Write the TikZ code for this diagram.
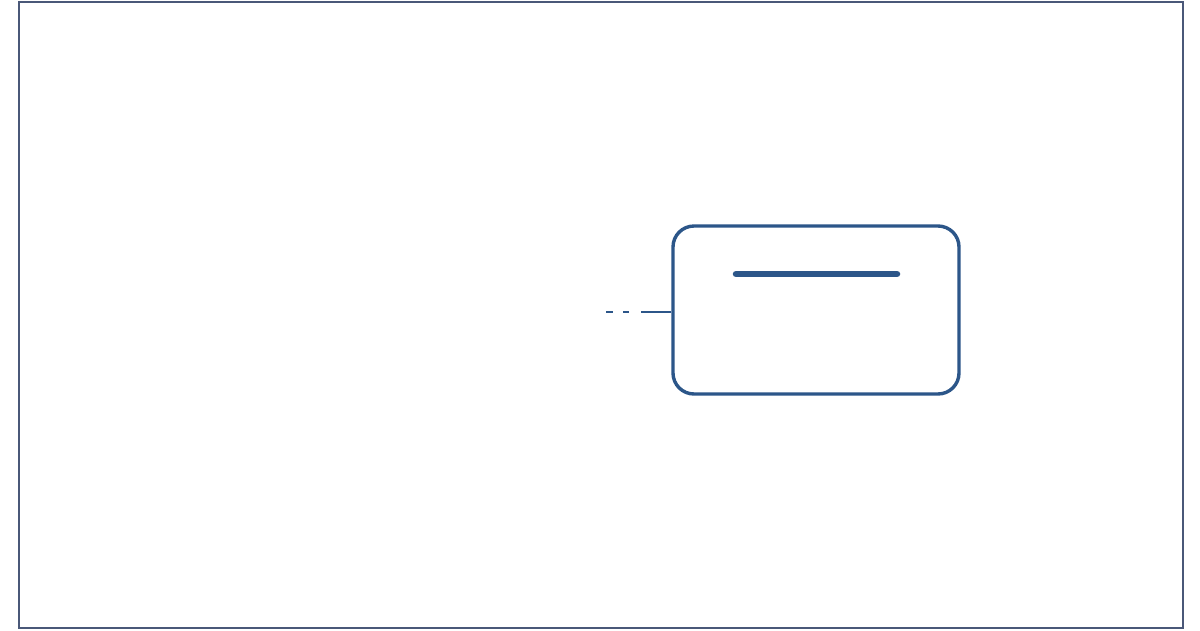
\documentclass[tikz,border=0pt]{standalone}
\definecolor{frame}{HTML}{4A5878}
\definecolor{nodeblue}{HTML}{2C5689}
\tikzset{
  framebox/.style={draw=frame, line width=2pt},
  roundbox/.style={draw=nodeblue, line width=3.4pt, rounded corners=21pt, fill=white},
  titlebar/.style={draw=nodeblue, line width=6.5pt, line cap=round},
  conn/.style={draw=nodeblue, line width=2.8pt},
}
\begin{document}
\begin{tikzpicture}[x=1pt,y=-1pt]
\useasboundingbox (0,0) rectangle (1200,630);
\fill[white] (0,0) rectangle (1200,630);
\draw[framebox] (18.5,1.5) rectangle (1182.5,627.5);
\node[roundbox, minimum width=286pt, minimum height=168pt, inner sep=0pt] (box) at (816,310) {};
\coordinate (barL) at (736,274);
\coordinate (barR) at (897,274);
\draw[titlebar] (barL) -- (barR);
\coordinate (dashEnd) at (606,312);
\coordinate (solidStart) at (641,312);
\draw[conn] (box.west |- solidStart) -- (solidStart);
\draw[conn, dash pattern=on 6.5pt off 10pt] (solidStart) ++(-12,0) -- (dashEnd);
\end{tikzpicture}
\end{document}
